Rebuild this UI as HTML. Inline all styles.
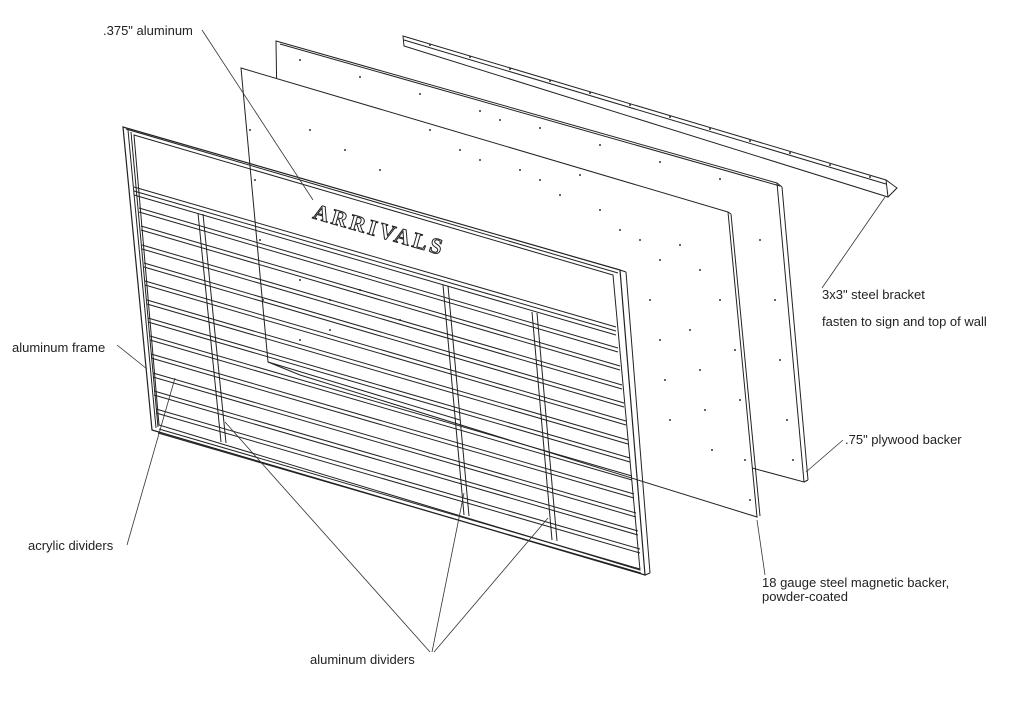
<!DOCTYPE html>
<html><head><meta charset="utf-8"><style>
html,body{margin:0;padding:0;background:#fff;width:1024px;height:702px;overflow:hidden}
svg{display:block}
text{font-family:"Liberation Sans",sans-serif;font-size:13px;fill:#222}
</style></head><body>
<svg width="1024" height="702" viewBox="0 0 1024 702" xmlns="http://www.w3.org/2000/svg">
<g fill="none" stroke="#222" stroke-width="1">
<!-- bracket -->
<polygon points="403,36 886,180 897,188 888,197 404,46" fill="#fff"/>
<line x1="404" y1="40" x2="886" y2="184"/>
<line x1="886" y1="180" x2="888" y2="197"/>
<!-- plywood -->
<polygon points="276,41 777,183 804,482 752,468 280,300" fill="#fff"/>
<line x1="280" y1="44" x2="780" y2="186"/>
<line x1="777" y1="183" x2="782" y2="187"/>
<line x1="782" y1="187" x2="808" y2="480"/>
<line x1="804" y1="482" x2="808" y2="480"/>
<!-- steel backer -->
<polygon points="241,68 728,212 757,517 300,375 268,362" fill="#fff"/>
<line x1="268" y1="362" x2="460" y2="420"/>
<line x1="728" y1="212" x2="731" y2="214"/>
<line x1="731" y1="214" x2="760" y2="516"/>
</g>
<!-- dots -->
<g fill="#333">
<circle cx="300" cy="60" r="1"/><circle cx="360" cy="77" r="1"/><circle cx="420" cy="94" r="1"/><circle cx="480" cy="111" r="1"/><circle cx="540" cy="128" r="1"/><circle cx="600" cy="145" r="1"/><circle cx="660" cy="162" r="1"/><circle cx="720" cy="179" r="1"/>
<circle cx="430" cy="45" r="1"/><circle cx="470" cy="57" r="1"/><circle cx="510" cy="69" r="1"/><circle cx="550" cy="81" r="1"/><circle cx="590" cy="93" r="1"/><circle cx="630" cy="105" r="1"/><circle cx="670" cy="117" r="1"/><circle cx="710" cy="129" r="1"/><circle cx="750" cy="141" r="1"/><circle cx="790" cy="153" r="1"/><circle cx="830" cy="165" r="1"/><circle cx="870" cy="177" r="1"/>
<circle cx="250" cy="130" r="1"/><circle cx="255" cy="180" r="1"/><circle cx="260" cy="240" r="1"/><circle cx="263" cy="300" r="1"/>
<circle cx="310" cy="130" r="1"/><circle cx="345" cy="150" r="1"/><circle cx="380" cy="170" r="1"/><circle cx="430" cy="130" r="1"/><circle cx="460" cy="150" r="1"/><circle cx="480" cy="160" r="1"/><circle cx="500" cy="120" r="1"/><circle cx="520" cy="170" r="1"/><circle cx="540" cy="180" r="1"/><circle cx="560" cy="195" r="1"/><circle cx="580" cy="175" r="1"/><circle cx="600" cy="210" r="1"/><circle cx="620" cy="230" r="1"/><circle cx="640" cy="240" r="1"/><circle cx="660" cy="260" r="1"/><circle cx="680" cy="245" r="1"/><circle cx="700" cy="270" r="1"/>
<circle cx="650" cy="300" r="1"/><circle cx="660" cy="340" r="1"/><circle cx="665" cy="380" r="1"/><circle cx="670" cy="420" r="1"/><circle cx="690" cy="330" r="1"/><circle cx="700" cy="370" r="1"/><circle cx="705" cy="410" r="1"/><circle cx="712" cy="450" r="1"/><circle cx="720" cy="300" r="1"/><circle cx="735" cy="350" r="1"/><circle cx="740" cy="400" r="1"/><circle cx="745" cy="460" r="1"/><circle cx="750" cy="500" r="1"/>
<circle cx="760" cy="240" r="1"/><circle cx="775" cy="300" r="1"/><circle cx="780" cy="360" r="1"/><circle cx="787" cy="420" r="1"/><circle cx="793" cy="460" r="1"/>
<circle cx="300" cy="280" r="1"/><circle cx="330" cy="300" r="1"/><circle cx="360" cy="290" r="1"/><circle cx="400" cy="320" r="1"/><circle cx="330" cy="330" r="1"/><circle cx="300" cy="340" r="1"/>
</g>
<g fill="none" stroke="#222" stroke-width="1">
<!-- frame -->
<polygon points="123,127 620,270 645,575 152,430" stroke-width="1.2"/>
<polygon points="134,135 613,275 640,570 159,425"/>
<line x1="128" y1="130" x2="156" y2="428"/>
<line x1="131" y1="132" x2="158" y2="427"/>
<line x1="126" y1="129" x2="618" y2="273"/>
<line x1="620" y1="270" x2="626" y2="272"/>
<line x1="626" y1="272" x2="650" y2="573"/>
<line x1="645" y1="575" x2="650" y2="573"/>
<!-- crossbar -->
<line x1="134" y1="187" x2="616" y2="327"/>
<line x1="134" y1="191" x2="616" y2="331"/>
<line x1="134" y1="195" x2="616" y2="335"/>
<!-- bottom rail -->
<line x1="159" y1="429" x2="640" y2="569"/>
<line x1="158" y1="433" x2="641" y2="573"/>
<!-- slats -->
<line x1="139" y1="208" x2="618" y2="348"/><line x1="139" y1="212" x2="618" y2="352"/>
<line x1="141" y1="226" x2="620" y2="366"/><line x1="141" y1="230" x2="620" y2="370"/>
<line x1="142" y1="245" x2="622" y2="385"/><line x1="142" y1="249" x2="622" y2="389"/>
<line x1="144" y1="263" x2="624" y2="403"/><line x1="144" y1="267" x2="624" y2="407"/>
<line x1="145" y1="281" x2="626" y2="421"/><line x1="145" y1="285" x2="626" y2="425"/>
<line x1="147" y1="300" x2="628" y2="440"/><line x1="147" y1="304" x2="628" y2="444"/>
<line x1="148" y1="318" x2="630" y2="458"/><line x1="148" y1="322" x2="630" y2="462"/>
<line x1="150" y1="336" x2="632" y2="476"/><line x1="150" y1="340" x2="632" y2="480"/>
<line x1="151" y1="354" x2="634" y2="494"/><line x1="151" y1="358" x2="634" y2="498"/>
<line x1="153" y1="373" x2="636" y2="513"/><line x1="153" y1="377" x2="636" y2="517"/>
<line x1="154" y1="391" x2="638" y2="531"/><line x1="154" y1="395" x2="638" y2="535"/>
<line x1="156" y1="409" x2="640" y2="549"/><line x1="156" y1="413" x2="640" y2="553"/>
<!-- vertical dividers -->
<line x1="198" y1="213" x2="221" y2="442"/><line x1="203" y1="214" x2="226" y2="443"/>
<line x1="443" y1="285" x2="464" y2="515"/><line x1="448" y1="286" x2="469" y2="516"/>
<line x1="532" y1="312" x2="552" y2="540"/><line x1="537" y1="313" x2="557" y2="541"/>
</g>
<!-- ARRIVALS -->
<text x="312" y="218" transform="rotate(16 312 218)" style="font-family:'Liberation Serif',serif;font-size:22px;font-weight:bold;letter-spacing:3px;fill:#fff;stroke:#222;stroke-width:1">ARRIVALS</text>
<!-- leaders -->
<g stroke="#333" stroke-width="0.8" fill="none">
<line x1="202" y1="30" x2="313" y2="200"/>
<line x1="117" y1="345" x2="147" y2="369"/>
<line x1="127" y1="545" x2="175" y2="378"/>
<line x1="430" y1="652" x2="225" y2="422"/>
<line x1="432" y1="652" x2="464" y2="493"/>
<line x1="434" y1="652" x2="548" y2="518"/>
<line x1="822" y1="288" x2="885" y2="197"/>
<line x1="843" y1="440" x2="806" y2="472"/>
<line x1="765" y1="575" x2="757" y2="520"/>
</g>
<text x="103" y="35">.375" aluminum</text>
<text x="12" y="352">aluminum frame</text>
<text x="28" y="550">acrylic dividers</text>
<text x="310" y="664">aluminum dividers</text>
<text x="822" y="299">3x3" steel bracket</text>
<text x="822" y="326">fasten to sign and top of wall</text>
<text x="845" y="444">.75" plywood backer</text>
<text x="762" y="587">18 gauge steel magnetic backer,</text>
<text x="762" y="601">powder-coated</text>
</svg>
</body></html>
